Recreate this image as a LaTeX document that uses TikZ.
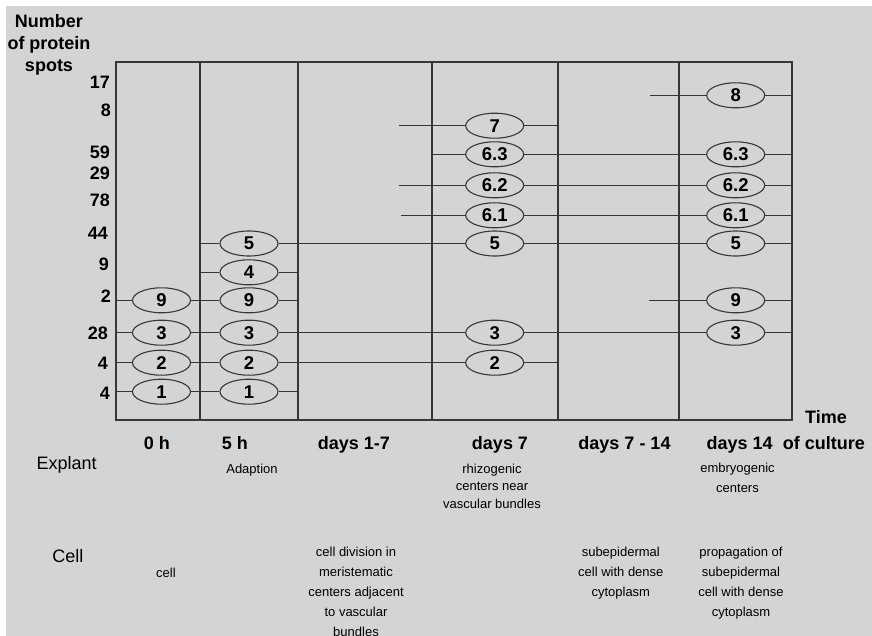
\documentclass[tikz,border=0pt]{standalone}
\usepackage{fontspec}
\setmainfont{Liberation Sans}
\usetikzlibrary{shapes.geometric}
\definecolor{bg}{RGB}{211,212,214}
\definecolor{ln}{RGB}{55,55,55}
\begin{document}
\begin{tikzpicture}[x=1pt,y=-1pt,
  spot/.style={ellipse,draw=ln,line width=1.1pt,minimum width=58pt,minimum height=25pt,inner sep=0pt,font=\fontsize{18.5}{20}\selectfont\bfseries},
  conn/.style={draw=ln,line width=1.1pt},
  frame/.style={draw=ln,line width=1.3pt},
  bold/.style={inner sep=0pt,font=\fontsize{18}{21}\selectfont\bfseries},
  tlab/.style={bold,anchor=base},
  ylab/.style={bold,anchor=east},
  big/.style={inner sep=0pt,font=\fontsize{18}{21}\selectfont},
  small/.style={inner sep=0pt,align=center,font=\fontsize{13}{20}\selectfont}
]
\useasboundingbox (0,0) rectangle (872,636);
\fill[bg] (6,6) rectangle (872,636);

% frame and columns
\draw[frame] (116,62) rectangle (792,420);
\foreach \x in {200,298,432,558,679} \draw[frame] (\x,62) -- (\x,420);

% y labels
\node[bold,align=center,font=\fontsize{18}{22}\selectfont\bfseries] (ytitle) at (49,45) {Number\\of protein\\spots};
\node[ylab] (y17) at (110,82) {17};
\node[ylab] (y8) at (111,110) {8};
\node[ylab] (y59) at (110,152) {59};
\node[ylab] (y29) at (110,173) {29};
\node[ylab] (y78) at (110,200) {78};
\node[ylab] (y44) at (108,233) {44};
\node[ylab] (y9) at (109,264) {9};
\node[ylab] (y2) at (111,296) {2};
\node[ylab] (y28) at (108,333) {28};
\node[ylab] (y4a) at (108,363) {4};
\node[ylab] (y4b) at (110,393) {4};

% spots column 0 h
\node[spot] (a9) at (161.5,300.3) {9};
\node[spot] (a3) at (161.5,332.7) {3};
\node[spot] (a2) at (161.5,362.7) {2};
\node[spot] (a1) at (161.5,391.7) {1};
% column 5 h
\node[spot] (b5) at (249,243.5) {5};
\node[spot] (b4) at (249,272.3) {4};
\node[spot] (b9) at (249,300.3) {9};
\node[spot] (b3) at (249,332.7) {3};
\node[spot] (b2) at (249,362.7) {2};
\node[spot] (b1) at (249,391.7) {1};
% column days 7
\node[spot] (c7) at (494.7,125.7) {7};
\node[spot] (c63) at (494.7,154.3) {6.3};
\node[spot] (c62) at (494.7,185.3) {6.2};
\node[spot] (c61) at (494.7,215.3) {6.1};
\node[spot] (c5) at (494.7,243.5) {5};
\node[spot] (c3) at (494.7,332.7) {3};
\node[spot] (c2) at (494.7,362.7) {2};
% column days 14
\node[spot] (d8) at (735.7,95.3) {8};
\node[spot] (d63) at (735.7,154.3) {6.3};
\node[spot] (d62) at (735.7,185.3) {6.2};
\node[spot] (d61) at (735.7,215.3) {6.1};
\node[spot] (d5) at (735.7,243.5) {5};
\node[spot] (d9) at (735.7,300.3) {9};
\node[spot] (d3) at (735.7,332.7) {3};

% free ends
\coordinate (l9) at (116,300.3);
\coordinate (r9) at (298,300.3);
\coordinate (l9d) at (649,300.3);
\coordinate (r9d) at (792,300.3);
\coordinate (l3) at (116,332.7);
\coordinate (r3) at (792,332.7);
\coordinate (l2) at (116,362.7);
\coordinate (r2) at (558,362.7);
\coordinate (l1) at (116,391.7);
\coordinate (r1) at (298,391.7);
\coordinate (l5) at (200,243.5);
\coordinate (r5) at (792,243.5);
\coordinate (l4) at (200,272.3);
\coordinate (r4) at (298,272.3);
\coordinate (l7) at (399,125.7);
\coordinate (r7) at (558,125.7);
\coordinate (l63) at (432,154.3);
\coordinate (r63) at (792,154.3);
\coordinate (l62) at (399,185.3);
\coordinate (r62) at (792,185.3);
\coordinate (l61) at (401,215.3);
\coordinate (r61) at (792,215.3);
\coordinate (l8) at (650,95.3);
\coordinate (r8) at (792,95.3);

% connectors
\draw[conn] (l9) -- (a9) -- (b9) -- (r9);
\draw[conn] (l9d) -- (d9) -- (r9d);
\draw[conn] (l3) -- (a3) -- (b3) -- (c3) -- (d3) -- (r3);
\draw[conn] (l2) -- (a2) -- (b2) -- (c2) -- (r2);
\draw[conn] (l1) -- (a1) -- (b1) -- (r1);
\draw[conn] (l5) -- (b5) -- (c5) -- (d5) -- (r5);
\draw[conn] (l4) -- (b4) -- (r4);
\draw[conn] (l7) -- (c7) -- (r7);
\draw[conn] (l63) -- (c63) -- (d63) -- (r63);
\draw[conn] (l62) -- (c62) -- (d62) -- (r62);
\draw[conn] (l61) -- (c61) -- (d61) -- (r61);
\draw[conn] (l8) -- (d8) -- (r8);

% time axis labels
\node[tlab] (time) at (826,423.5) {Time};
\node[tlab] (t0) at (157,449.5) {0 h};
\node[tlab] (t5) at (235,449.5) {5 h};
\node[tlab] (t17) at (354,449) {days 1-7};
\node[tlab] (t7) at (500,449) {days 7};
\node[tlab] (t714) at (624.5,449) {days 7 - 14};
\node[tlab] (t14) at (739.7,449) {days 14};
\node[tlab,anchor=base west] (cult) at (782.7,449) {of culture};

% row labels
\node[big] (explant) at (66.7,465) {Explant};
\node[big] (cellrow) at (67.8,556) {Cell};

% descriptions
\node[small] (adapt) at (252,470) {Adaption};
\node[small,font=\fontsize{13}{17.5}\selectfont] (rhizo) at (492,486) {rhizogenic\\centers near\\vascular bundles};
\node[small] (embryo) at (737.5,478) {embryogenic\\centers};
\node[small] (cell0) at (166,573) {cell};
\node[small] (celldiv) at (356,592) {cell division in\\meristematic\\centers adjacent\\to vascular\\bundles};
\node[small] (subep) at (620.8,573) {subepidermal\\cell with dense\\cytoplasm};
\node[small] (prop) at (741,583) {propagation of\\subepidermal\\cell with dense\\cytoplasm};
\end{tikzpicture}
\end{document}
